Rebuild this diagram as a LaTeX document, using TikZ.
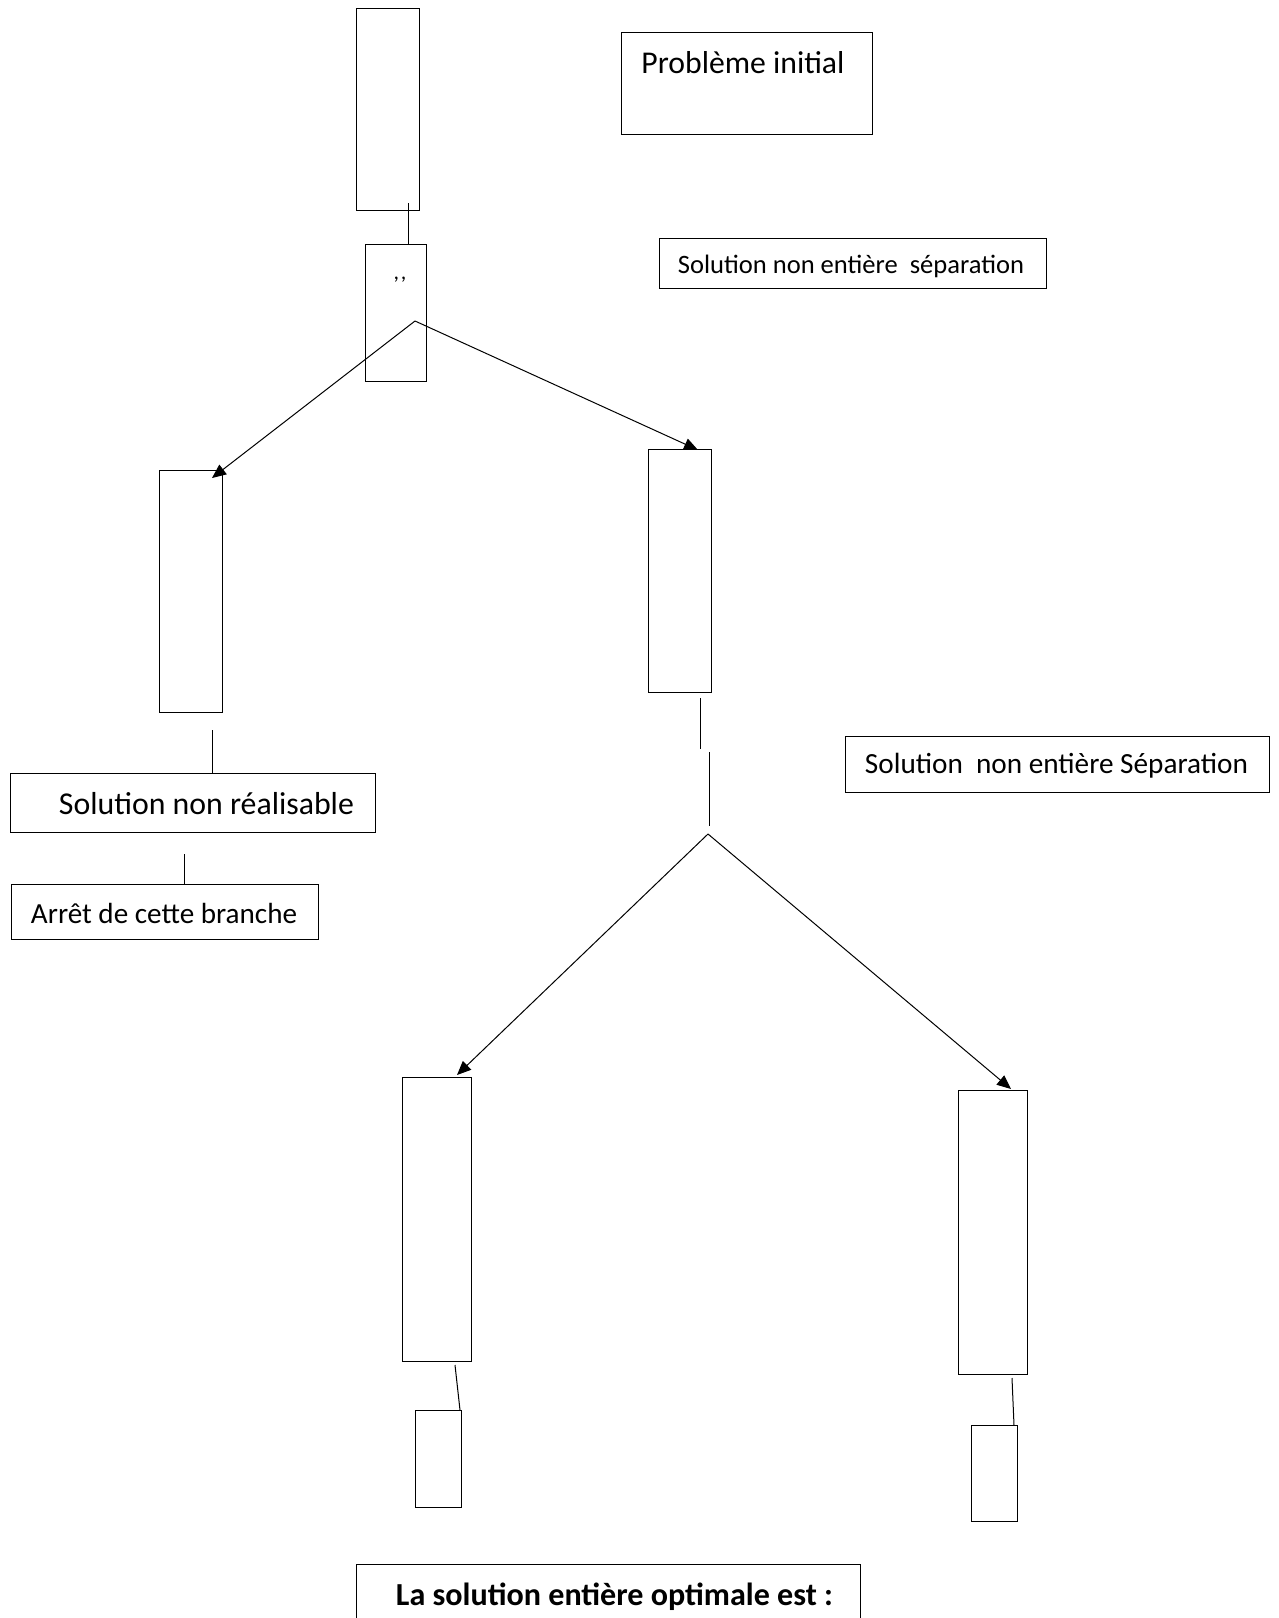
\documentclass[tikz,border=0pt]{standalone}
\usepackage{fontspec}
\setmainfont{Carlito}
\usetikzlibrary{arrows.meta}
\newcommand\fitw[2]{\resizebox{#1}{!}{#2}}
\begin{document}
\begin{tikzpicture}[x=1pt,y=-1pt,
  bx/.style={draw=black,line width=1pt,rectangle,inner sep=0pt,outer sep=0pt},
  txt/.style={inner sep=0pt,outer sep=0pt,text=black},
  ln/.style={draw=black,line width=1pt},
  arr/.style={draw=black,line width=1pt,-{Triangle[length=14pt,width=12pt]}}]
\useasboundingbox[fill=white] (0,0) rectangle (1279,1618);
% boxes
\node[bx,minimum width=63pt,minimum height=202pt] (A) at (387.5,109) {};
\node[bx,minimum width=61pt,minimum height=137pt] (B) at (395.5,312.5) {};
\node[txt,font=\fontsize{22}{26}\selectfont] (Bt) at (400,280) {,{}\kern2pt,};
\node[bx,minimum width=251pt,minimum height=102pt] (P) at (746.5,83) {};
\node[txt] (Pt) at (743,63) {\fitw{203pt}{Problème initial}};
\node[bx,minimum width=387pt,minimum height=50pt] (S1) at (852.5,263) {};
\node[txt] (S1t) at (851,266) {\fitw{346pt}{Solution non entière\ \ séparation}};
\node[bx,minimum width=63pt,minimum height=242pt] (C) at (190.5,591) {};
\node[bx,minimum width=63pt,minimum height=243pt] (D) at (679.5,570.5) {};
\node[bx,minimum width=365pt,minimum height=59pt] (R) at (192.5,802.5) {};
\node[txt] (Rt) at (206.5,804) {\fitw{295pt}{Solution non réalisable}};
\node[bx,minimum width=307pt,minimum height=55pt] (Ar) at (164.5,911.5) {};
\node[txt] (Art) at (164,913) {\fitw{266pt}{Arrêt de cette branche}};
\node[bx,minimum width=424pt,minimum height=56pt] (S2) at (1057,764) {};
\node[txt] (S2t) at (1056.5,766) {\fitw{383pt}{Solution\ \ non entière Séparation}};
\node[bx,minimum width=69pt,minimum height=284pt] (E) at (436.5,1219) {};
\node[bx,minimum width=69pt,minimum height=284pt] (F) at (992.5,1232) {};
\node[bx,minimum width=46pt,minimum height=97pt] (G) at (438,1458.5) {};
\node[bx,minimum width=46pt,minimum height=96pt] (H) at (994,1473) {};
\node[bx,minimum width=504pt,minimum height=62pt] (L) at (608,1595) {};
\node[txt] (Lt) at (614.5,1597) {\fitw{437pt}{\bfseries La solution entière optimale est :}};
% connectors
\coordinate (ap1) at (415,321);
\coordinate (ap2) at (708,834);
\coordinate (d1) at (700,698);
\coordinate (d2) at (700,749);
\coordinate (d3) at (709,752);
\coordinate (d4) at (709,826);
\draw[ln] ([xshift=12.5pt]B.north) -- ([xshift=20.5pt,yshift=7pt]A.south);
\draw[arr] (ap1) -- ([xshift=-10pt,yshift=-8pt]C.north east);
\draw[arr] (ap1) -- ([xshift=-13pt,yshift=-1pt]D.north east);
\draw[ln] ([xshift=19.5pt]R.north) -- ([xshift=19.5pt,yshift=43pt]R.north);
\draw[ln] ([xshift=19.5pt]Ar.north) -- ([xshift=19.5pt,yshift=30pt]Ar.north);
\draw[ln] (d1) -- (d2);
\draw[ln] (d3) -- (d4);
\draw[arr] (ap2) -- ([xshift=-14pt,yshift=2pt]E.north east);
\draw[arr] (ap2) -- ([xshift=-16pt,yshift=1pt]F.north east);
\draw[ln] ([xshift=22pt]G.north) -- ([xshift=17pt,yshift=45pt]G.north);
\draw[ln] ([xshift=20pt]H.north) -- ([xshift=18pt,yshift=47pt]H.north);
\end{tikzpicture}
\end{document}
